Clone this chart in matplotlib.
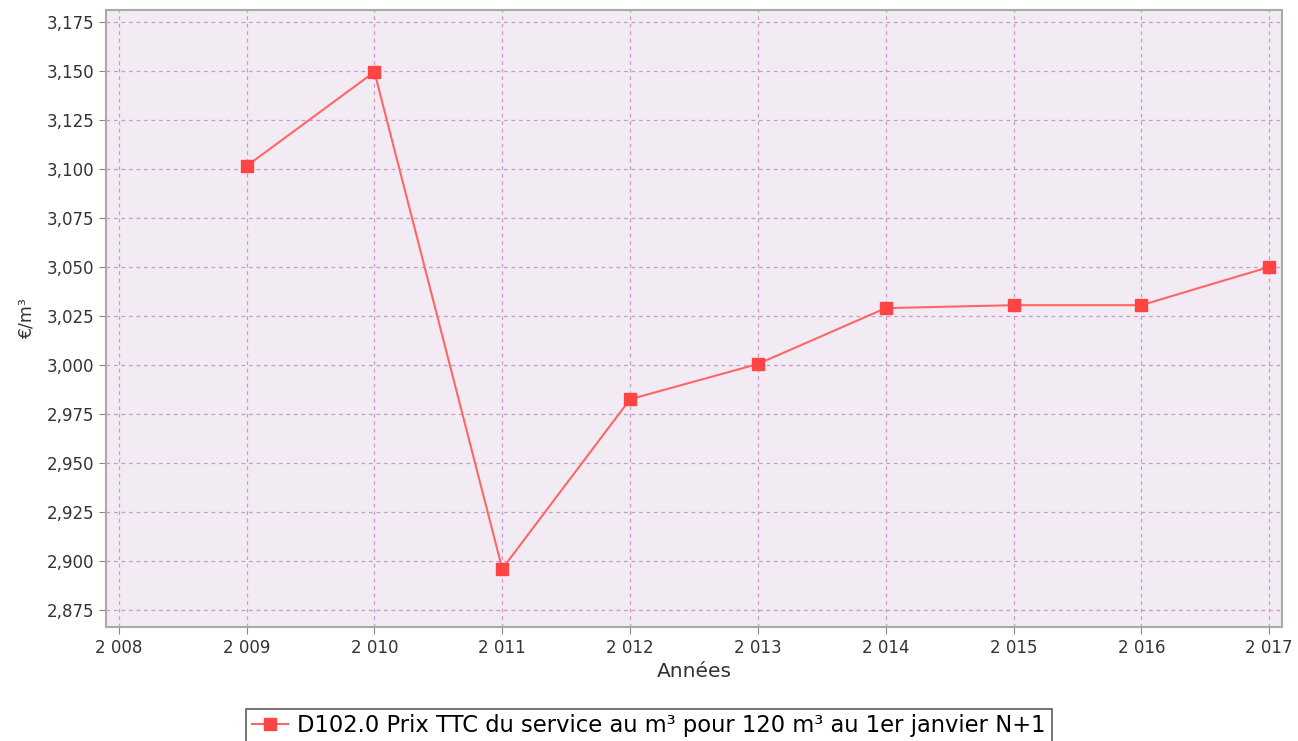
import matplotlib
matplotlib.use("Agg")
import matplotlib.pyplot as plt
from matplotlib.ticker import FuncFormatter, MultipleLocator

years = [2009, 2010, 2011, 2012, 2013, 2014, 2015, 2016, 2017]
prix = [3.1015, 3.1495, 2.896, 2.9825, 3.0005, 3.029, 3.0305, 3.0305, 3.050]
serie_label = "D102.0 Prix TTC du service au m³ pour 120 m³ au 1er janvier N+1"

plt.rcParams['font.family'] = ['DejaVu Sans']

fig = plt.figure(figsize=(12.98, 7.41), dpi=100)
ax = fig.add_axes([106 / 1298, 1 - 627 / 741, 1176 / 1298, 617 / 741])
ax.set_facecolor('#F3EBF3')

ax.plot(years, prix, color='#FF6666', linewidth=1.5, marker='s', markersize=8,
        markerfacecolor='#FF4444', markeredgecolor='#FF4444', label=serie_label, zorder=3)

ax.set_xlim(2007.9, 2017.1)
ax.set_ylim(2.8663, 3.1811)
ax.xaxis.set_major_locator(MultipleLocator(1))
ax.yaxis.set_major_locator(MultipleLocator(0.025))

ax.xaxis.set_major_formatter(FuncFormatter(lambda v, p: "{:,}".format(int(round(v))).replace(",", " ")))
ax.yaxis.set_major_formatter(FuncFormatter(lambda v, p: "{:.3f}".format(v).replace(".", ",")))

ax.grid(True, color='#C89BC8', linestyle=(0, (3, 3)), linewidth=0.9)
ax.tick_params(labelsize=12, color='#888888', length=5, colors='#333333')
for s in ax.spines.values():
    s.set_color('#AAAAAA')
    s.set_linewidth(1.5)

ax.set_xlabel("Années", fontsize=14.5, color='#333333', labelpad=4)
ax.set_ylabel("€/m³", fontsize=12.5, color='#333333', labelpad=8)

leg = fig.legend(loc='lower center', bbox_to_anchor=(0.5, -0.018), fontsize=16.3,
                 frameon=True, fancybox=False, edgecolor='#333333', borderpad=0.25,
                 handlelength=1.6, handletextpad=0.4)
leg.get_frame().set_linewidth(1.2)

fig.savefig("out.png", dpi=100)
